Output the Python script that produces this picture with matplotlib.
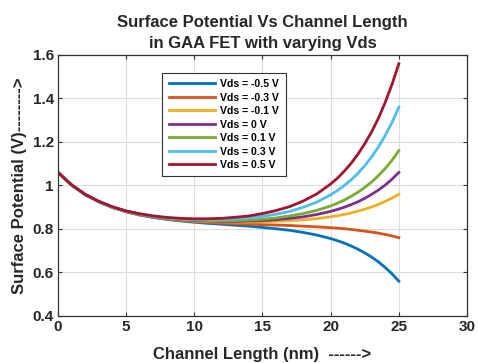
import matplotlib
matplotlib.use("Agg")
import matplotlib.pyplot as plt

plt.rcParams['font.family'] = ['Liberation Sans', 'DejaVu Sans']

# channel position (nm) and surface potential (V)
x_nm = [0, 1, 2, 3, 4, 5, 6, 7, 8, 9, 10, 11, 12, 13, 14, 15, 16, 17, 18, 19,
        20, 20.5, 21, 21.5, 22, 22.5, 23, 23.5, 24, 24.5, 25]

vds_labels = ['Vds = -0.5 V', 'Vds = -0.3 V', 'Vds = -0.1 V', 'Vds = 0 V',
              'Vds = 0.1 V', 'Vds = 0.3 V', 'Vds = 0.5 V']

phi_m05 = [1.060, 1.002, 0.958, 0.924, 0.899, 0.879, 0.864, 0.853, 0.844, 0.837,
           0.831, 0.826, 0.822, 0.817, 0.813, 0.807, 0.801, 0.794, 0.784, 0.772,
           0.756, 0.746, 0.735, 0.722, 0.707, 0.690, 0.671, 0.649, 0.623, 0.594, 0.560]
phi_m03 = [1.060, 1.002, 0.958, 0.925, 0.899, 0.880, 0.865, 0.854, 0.846, 0.839,
           0.834, 0.830, 0.827, 0.824, 0.822, 0.820, 0.818, 0.816, 0.813, 0.810,
           0.806, 0.804, 0.801, 0.798, 0.794, 0.790, 0.786, 0.781, 0.775, 0.768, 0.760]
phi_m01 = [1.060, 1.002, 0.958, 0.925, 0.900, 0.881, 0.866, 0.856, 0.848, 0.842,
           0.837, 0.834, 0.833, 0.832, 0.832, 0.833, 0.835, 0.838, 0.842, 0.848,
           0.856, 0.861, 0.867, 0.874, 0.882, 0.891, 0.901, 0.913, 0.927, 0.942, 0.960]
phi_0 = [1.060, 1.002, 0.958, 0.926, 0.900, 0.881, 0.867, 0.856, 0.849, 0.843,
         0.839, 0.837, 0.835, 0.835, 0.837, 0.839, 0.843, 0.849, 0.856, 0.867,
         0.881, 0.890, 0.900, 0.912, 0.925, 0.941, 0.959, 0.979, 1.002, 1.029, 1.060]
phi_p01 = [1.060, 1.002, 0.959, 0.926, 0.901, 0.882, 0.868, 0.857, 0.849, 0.844,
           0.841, 0.839, 0.838, 0.839, 0.841, 0.845, 0.851, 0.860, 0.871, 0.886,
           0.906, 0.919, 0.933, 0.950, 0.969, 0.991, 1.016, 1.045, 1.078, 1.116, 1.160]
phi_p03 = [1.060, 1.003, 0.959, 0.926, 0.901, 0.883, 0.869, 0.858, 0.851, 0.847,
           0.844, 0.843, 0.844, 0.846, 0.851, 0.858, 0.868, 0.881, 0.900, 0.924,
           0.957, 0.977, 1.000, 1.026, 1.056, 1.091, 1.131, 1.177, 1.230, 1.290, 1.360]
phi_p05 = [1.060, 1.003, 0.959, 0.927, 0.902, 0.883, 0.870, 0.860, 0.853, 0.849,
           0.847, 0.847, 0.849, 0.854, 0.860, 0.871, 0.885, 0.903, 0.929, 0.962,
           1.007, 1.034, 1.066, 1.102, 1.144, 1.192, 1.246, 1.309, 1.382, 1.465, 1.560]

series = [phi_m05, phi_m03, phi_m01, phi_0, phi_p01, phi_p03, phi_p05]
colors = ['#0072BD', '#D95319', '#EDB120', '#7E2F8E', '#77AC30', '#4DBEEE', '#A2142F']

fig = plt.figure(figsize=(4.78, 3.63), dpi=100)
ax = fig.add_axes([0.1213, 0.1295, 0.8557, 0.719])

for y, c, lab in zip(series, colors, vds_labels):
    ax.plot(x_nm, y, color=c, lw=2, label=lab)

ax.set_xlim(0, 30)
ax.set_ylim(0.4, 1.6)
ax.set_xticks([0, 5, 10, 15, 20, 25, 30])
ax.set_yticks([0.4, 0.6, 0.8, 1.0, 1.2, 1.4, 1.6])
ax.set_yticklabels(['0.4', '0.6', '0.8', '1', '1.2', '1.4', '1.6'])
ax.grid(True, color='#dcdcdc', lw=0.8)
ax.set_axisbelow(True)
ax.tick_params(direction='in', top=True, right=True, length=3, width=0.8,
               color='#333333', labelsize=11, pad=3)
for lbl in ax.get_xticklabels() + ax.get_yticklabels():
    lbl.set_fontweight('bold')
    lbl.set_color('#262626')
for s in ax.spines.values():
    s.set_color('#333333')
    s.set_linewidth(0.9)

ax.set_title('Surface Potential Vs Channel Length\nin GAA FET with varying Vds',
             fontsize=12, fontweight='bold', color='#262626', pad=5, linespacing=1.5)
ax.set_xlabel('Channel Length (nm)  ------>', fontsize=12, fontweight='bold',
              color='#262626', labelpad=9)
ax.set_ylabel('Surface Potential (V)-------->', fontsize=12, fontweight='bold',
              color='#262626', labelpad=4)

leg = ax.legend(loc='upper left', bbox_to_anchor=(0.242, 0.952),
                handlelength=4.4, handletextpad=0.5, labelspacing=0.33,
                borderpad=0.6, fancybox=False, framealpha=1, edgecolor='#333333',
                prop={'weight': 'bold', 'size': 7.6})
leg.get_frame().set_linewidth(0.8)

fig.savefig('out.png', dpi=100)
